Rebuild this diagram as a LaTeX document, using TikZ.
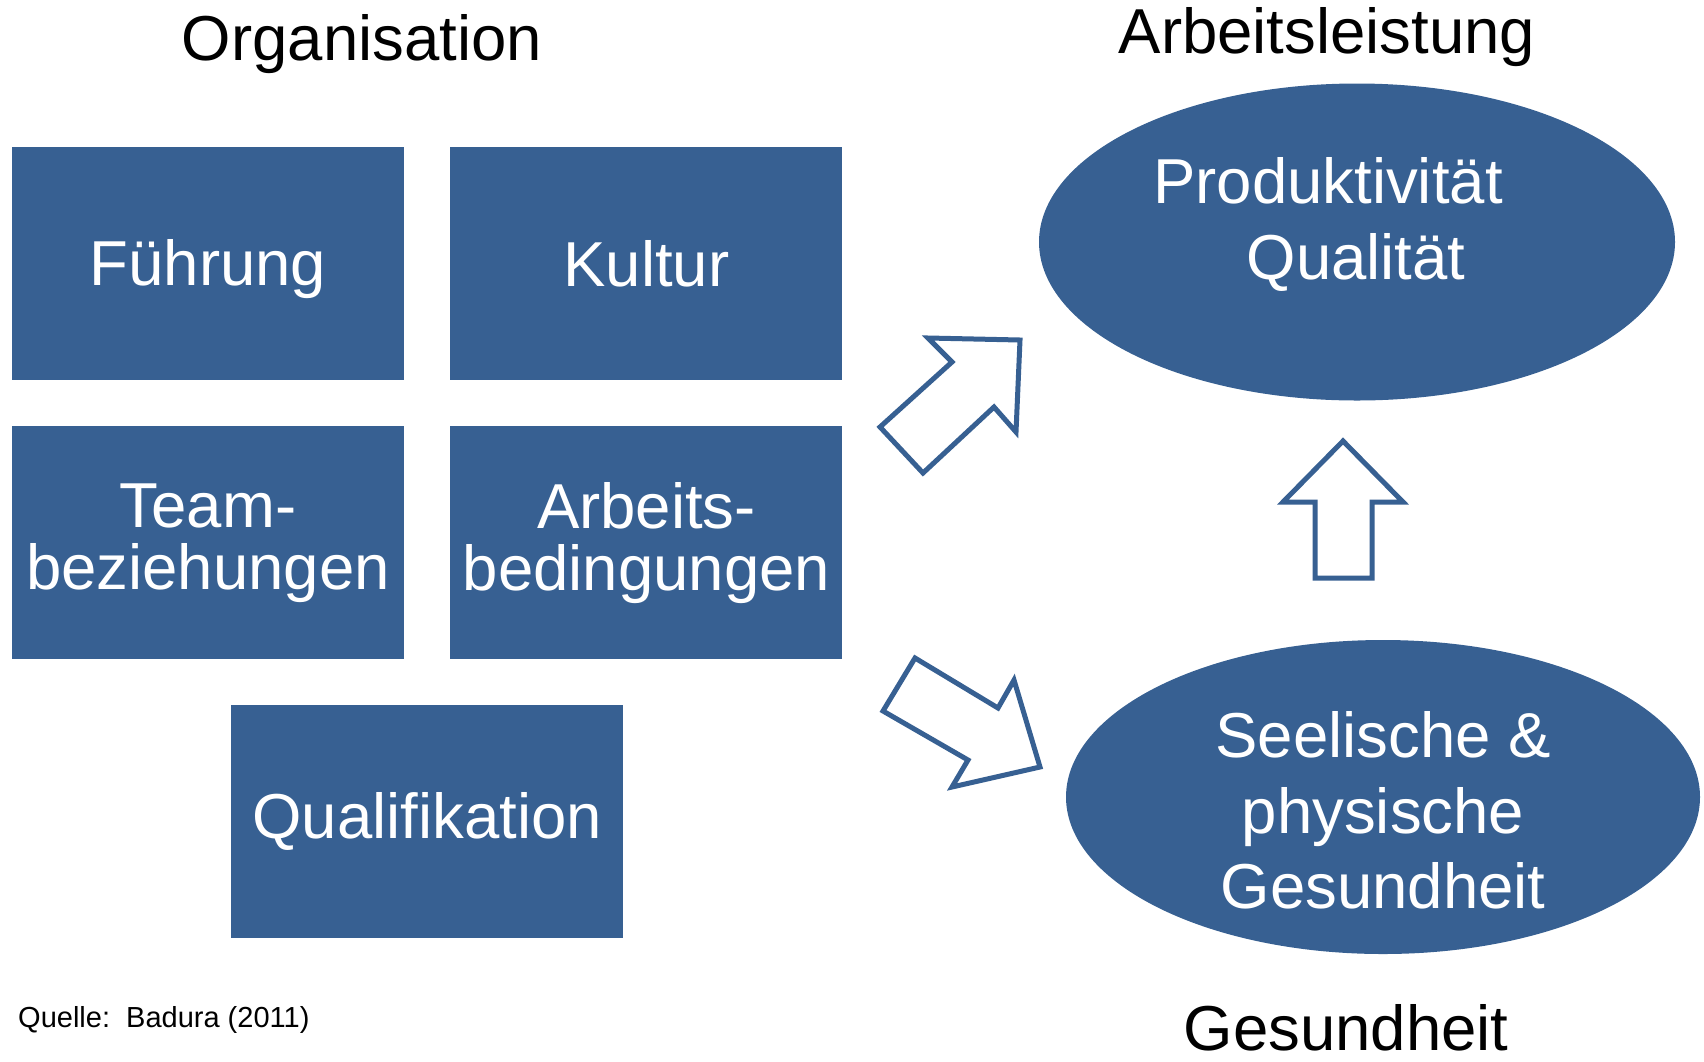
\documentclass[tikz,border=0pt]{standalone}
\usepackage{fontspec}
\setmainfont{Liberation Sans}
\usetikzlibrary{positioning,shapes.geometric,calc}
\definecolor{boxblue}{RGB}{55,96,146}
\newcommand{\bigtext}{\fontsize{63.5pt}{62pt}\selectfont}
\newcommand{\smalltext}{\fontsize{29pt}{35pt}\selectfont}

\begin{document}
\begin{tikzpicture}[x=1pt, y=-1pt,
	orgbox/.style={rectangle, fill=boxblue, text=white, font=\bigtext, align=center,
		minimum width=392pt, minimum height=233pt, inner sep=0pt},
	goal/.style={ellipse, fill=boxblue, inner sep=0pt},
	heading/.style={font=\bigtext, anchor=base, inner sep=0pt},
	goaltext/.style={heading, text=white},
	blockarrow/.style={draw=boxblue, line width=5pt, fill=white, line join=miter}]
	\useasboundingbox (0,0) rectangle (1704,1061);
	
	% Organisation
	\node[heading] (orgtitle) at (362,60) {Organisation};
	\node[orgbox, text depth=3pt] (fuehrung) at (208,263.5) {Führung};
	\node[orgbox, right=46pt of fuehrung] (kultur) {Kultur};
	\node[orgbox, below=46pt of fuehrung] (team) {Team-\\beziehungen};
	\node[orgbox, below=46pt of kultur] (bedingungen) {Arbeits-\\bedingungen};
	\coordinate (mid) at ($(team.south)!0.5!(bedingungen.south)$);
	\node[orgbox, below=45pt of mid] (quali) {Qualifikation};
	
	% Arbeitsleistung und Gesundheit
	\node[heading] (leistungtitle) at (1327,53) {Arbeitsleistung};
	\node[goal, minimum width=636pt, minimum height=317pt] (leistung) at (1357,242) {};
	\node[goaltext] (prod) at (1328,203) {Produktivität};
	\node[goaltext] (qual) at (1356,279) {Qualität};
	
	\node[goal, minimum width=634pt, minimum height=314pt] (gesundheit) at (1383,797) {};
	\node[goaltext] (seele) at (1383,757) {Seelische \&};
	\node[goaltext] (physis) at (1383,833) {physische};
	\node[goaltext] (gesund) at (1383,908) {Gesundheit};
	\node[heading] (gesundtitle) at (1346,1050) {Gesundheit};
	
	% Pfeile
	\draw[blockarrow] (880,427) -- (952,362) -- (928,338) -- (1020,340) -- (1016,432) -- (994,407) -- (923,473) -- cycle;
	\draw[blockarrow] (915,658) -- (998,708) -- (1014,680) -- (1040,767) -- (952,787) -- (968,760) -- (883,711) -- cycle;
	\draw[blockarrow] (1343,441) -- (1403,502) -- (1372,502) -- (1372,578) -- (1315,578) -- (1315,502) -- (1283,502) -- cycle;
	
	\node[font=\smalltext, anchor=base west, inner sep=0pt] (quelle) at (18,1027) {Quelle:\ \ Badura (2011)};
\end{tikzpicture}
\end{document}
